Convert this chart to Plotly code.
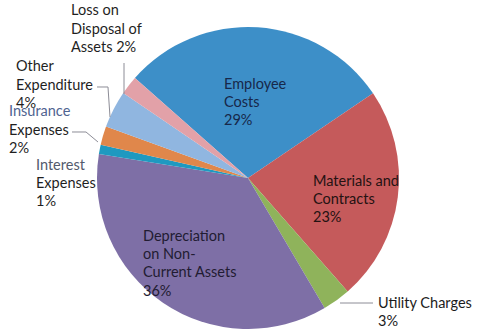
import plotly.graph_objects as go

# Expenditure breakdown (percent of total)
categories = [
    "Employee Costs",
    "Materials and Contracts",
    "Utility Charges",
    "Depreciation on Non-Current Assets",
    "Interest Expenses",
    "Insurance Expenses",
    "Other Expenditure",
    "Loss on Disposal of Assets",
]
shares = [29, 23, 3, 36, 1, 2, 4, 2]
slice_colors = [
    "#3d8fc8",  # employee
    "#c55a5b",  # materials
    "#8fb35b",  # utility
    "#7e6fa6",  # depreciation
    "#1f99c0",  # interest
    "#e0874b",  # insurance
    "#90b6e0",  # other
    "#e2a1a8",  # loss on disposal
]

# How each category name wraps in its label
label_lines = {
    "Employee Costs": ["Employee", "Costs"],
    "Materials and Contracts": ["Materials and", "Contracts"],
    "Utility Charges": ["Utility Charges"],
    "Depreciation on Non-Current Assets": ["Depreciation", "on Non-", "Current Assets"],
    "Interest Expenses": ["Interest", "Expenses"],
    "Insurance Expenses": ["Insurance", "Expenses"],
    "Other Expenditure": ["Other", "Expenditure"],
    "Loss on Disposal of Assets": ["Loss on", "Disposal of", "Assets"],
}
# label anchor (left edge, first-line centre) in pixels, and text colour
label_place = {
    "Employee Costs": (222, 83, "#17284a"),
    "Materials and Contracts": (311, 180, "#241212"),
    "Utility Charges": (376, 302, "#1c1c1c"),
    "Depreciation on Non-Current Assets": (141, 235, "#221c32"),
    "Interest Expenses": (34, 164, "#1f1f1f"),
    "Insurance Expenses": (7, 111, "#1f1f1f"),
    "Other Expenditure": (14, 66, "#1f1f1f"),
    "Loss on Disposal of Assets": (69, 10, "#1f1f1f"),
}
first_word_tint = {"Interest Expenses": "#535a6c", "Insurance Expenses": "#4f6390"}

# leader lines from outside labels to their slices (pixel polylines)
leaders = {
    "Loss on Disposal of Assets": [(124, 63), (124, 94)],
    "Other Expenditure": [(97, 87), (108, 87), (110, 117)],
    "Insurance Expenses": [(72, 132), (86, 132), (98, 142)],
    "Utility Charges": [(340, 303), (373, 303)],
}

W, H = 481, 329
FONT = "Lato, 'Open Sans', sans-serif"
LINE_GAP = 18.4


def px(x, y):
    return x / W, 1 - y / H


fig = go.Figure(
    go.Pie(
        labels=categories,
        values=shares,
        sort=False,
        direction="clockwise",
        rotation=-48.5,
        marker=dict(colors=slice_colors, line=dict(width=0)),
        textinfo="none",
        hoverinfo="label+percent",
        showlegend=False,
        domain=dict(x=[(248 - 151) / W, (248 + 151) / W], y=[0, 302 / H]),
    )
)

annotations = []
for name, val in zip(categories, shares):
    lines = list(label_lines[name])
    if name == "Loss on Disposal of Assets":
        lines[-1] = f"{lines[-1]} {val}%"
    else:
        lines = lines + [f"{val}%"]
    x0, y0, col = label_place[name]
    for i, t in enumerate(lines):
        c = first_word_tint.get(name, col) if i == 0 else col
        xa, ya = px(x0, y0 + i * LINE_GAP)
        annotations.append(
            dict(
                x=xa, y=ya, xref="paper", yref="paper",
                text=t, showarrow=False, xanchor="left", yanchor="middle",
                font=dict(family=FONT, size=14.5, color=c),
            )
        )

shapes = []
for name, pts in leaders.items():
    path = "M " + " L ".join(f"{px(x, y)[0]:.4f},{px(x, y)[1]:.4f}" for x, y in pts)
    shapes.append(
        dict(type="path", xref="paper", yref="paper", path=path,
             line=dict(color="#8c8c96", width=1))
    )

fig.update_layout(
    width=W, height=H,
    margin=dict(l=0, r=0, t=0, b=0),
    paper_bgcolor="white",
    plot_bgcolor="white",
    annotations=annotations,
    shapes=shapes,
)

fig.write_html("out.html")
